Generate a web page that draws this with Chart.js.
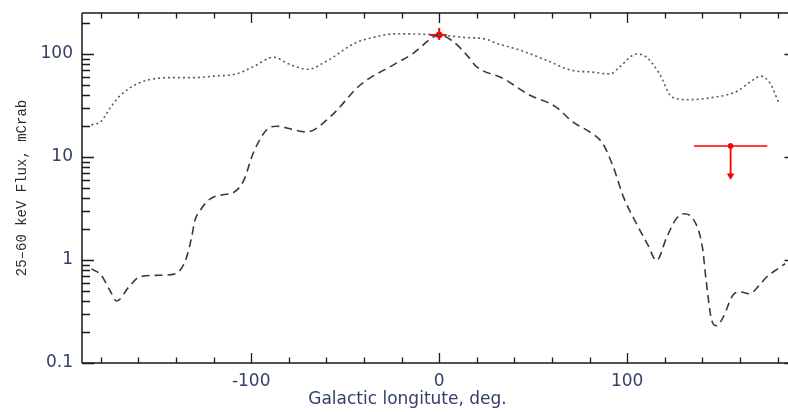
<!DOCTYPE html>
<html>
<head>
<meta charset="utf-8">
<script src="https://cdn.jsdelivr.net/npm/chart.js@4.4.1/dist/chart.umd.min.js"></script>
<style>
html,body{margin:0;padding:0;background:#fff;overflow:hidden;width:788px;height:412px;}
canvas{display:block;}
</style>
</head>
<body>
<canvas id="c" width="788" height="412"></canvas>
<script>
// ---- data ----
const dottedLon  = [-185,-180,-175,-170,-160,-150,-140,-130,-120,-108,-99,-88,-80,-70,-60,-45,-35,-23,-10,0,13,25,30.5,43,57,71,80,91,96,105,110,117,124,132,146,158,167,171,176,180.5];
const dottedFlux = [20.5,22,30,39,52,58,59,59,61,64,75,93,80,71,85,127,145,157,156,153,145,139,127,109,87,69,67,64,75,100,94,65,38,36,38,43,56,61,52,34];

const dashedLon  = [-185,-180,-175,-171.6,-165,-159,-149,-140,-137.9,-134.4,-131.7,-130,-127.3,-122,-115,-109.6,-104,-99,-92,-86.5,-78,-70.5,-58,-42,-23,-14,-3,0,7.4,14.6,20,34,48,62,71,80,87,92.6,98,105,111,115.6,121,126,130,135,140,142,145,147.5,151,156,160,165,170,174,180,184];
const dashedFlux = [0.82,0.72,0.5,0.40,0.55,0.69,0.71,0.74,0.79,1.06,1.66,2.4,3.0,3.9,4.3,4.5,5.9,10.8,18.2,19.9,18.5,17.5,24.5,50,81,101,147,153,132,98,75,58,40,30.7,21.9,17.5,13.5,8,4.1,2.24,1.4,0.99,1.66,2.5,2.81,2.51,1.33,0.63,0.257,0.23,0.277,0.45,0.49,0.47,0.56,0.68,0.82,0.92];

const crossLon = 0, crossFlux = 153;
const crossLonRange = [-5, 4];
const crossFluxRange = [137, 179];

const limitLon = 155, limitFlux = 12.8;
const limitLonRange = [135.5, 174.5];
const limitArrowFlux = 6.1;

const xMajorTicks = [-100, 0, 100];
const xMinorTicks = [-180,-160,-140,-120,-80,-60,-40,-20,20,40,60,80,120,140,160,180];
const yMajorTicks = [0.1, 1, 10, 100];
const yMinorTicks = [0.2,0.3,0.4,0.5,0.6,0.7,0.8,0.9,2,3,4,5,6,7,8,9,20,30,40,50,60,70,80,90,200];
const xTitle = 'Galactic longitute, deg.          ';
const yTitle = '25\u201360 keV Flux, mCrab';

// ---- build ----
const pts = (xs, ys) => xs.map((x, i) => ({x, y: ys[i]}));
const red = '#ff0000';
const axisColor = '#1a1a1a';
const labelColor = '#34406a';

const frameTicks = {
  id: 'frameTicks',
  afterDatasetsDraw(chart) {
    const {ctx, chartArea: a, scales: {x, y}} = chart;
    ctx.save();
    ctx.strokeStyle = axisColor;
    ctx.lineWidth = 1.5;
    ctx.beginPath();
    ctx.moveTo(a.left, a.top); ctx.lineTo(a.right + 1, a.top);
    ctx.moveTo(a.left, a.top); ctx.lineTo(a.left, a.bottom);
    ctx.moveTo(a.left, a.bottom); ctx.lineTo(a.right + 1, a.bottom);
    ctx.stroke();
    ctx.lineWidth = 1.3;
    ctx.beginPath();
    const xt = (v, len) => {
      const p = Math.round(x.getPixelForValue(v)) + 0.5;
      ctx.moveTo(p, a.bottom); ctx.lineTo(p, a.bottom - len);
      ctx.moveTo(p, a.top); ctx.lineTo(p, a.top + len);
    };
    const yt = (v, len, right) => {
      const p = Math.round(y.getPixelForValue(v)) + 0.5;
      ctx.moveTo(a.left, p); ctx.lineTo(a.left + len, p);
      if (right) { ctx.moveTo(a.right + 1, p); ctx.lineTo(a.right - 2.5, p); }
    };
    xMajorTicks.forEach(v => xt(v, 10));
    xMinorTicks.forEach(v => xt(v, 5.5));
    yMajorTicks.forEach(v => yt(v, 12, true));
    yMinorTicks.forEach(v => yt(v, 8, false));
    ctx.stroke();
    ctx.restore();
  }
};

new Chart(document.getElementById('c'), {
  type: 'line',
  data: {
    datasets: [
      { data: pts(dottedLon, dottedFlux), borderColor: '#5a5a5a', borderWidth: 1.6, borderDash: [2, 3],
        pointRadius: 0, cubicInterpolationMode: 'monotone', fill: false },
      { data: pts(dashedLon, dashedFlux), borderColor: '#3a3a3a', borderWidth: 1.6, borderDash: [8, 5],
        pointRadius: 0, cubicInterpolationMode: 'monotone', fill: false },
      // red detection with error bars
      { data: [{x: crossLonRange[0], y: crossFlux}, {x: crossLonRange[1], y: crossFlux}], borderColor: red, borderWidth: 2, pointRadius: 0 },
      { data: [{x: crossLon, y: crossFluxRange[0]}, {x: crossLon, y: crossFluxRange[1]}], borderColor: red, borderWidth: 2, pointRadius: 0 },
      { data: [{x: crossLon, y: crossFlux}], showLine: false, pointRadius: 3, backgroundColor: red, borderColor: red },
      // red upper limit
      { data: [{x: limitLonRange[0], y: limitFlux}, {x: limitLonRange[1], y: limitFlux}], borderColor: red, borderWidth: 1.5, pointRadius: 0 },
      { data: [{x: limitLon, y: limitFlux}, {x: limitLon, y: limitArrowFlux * 1.12}], borderColor: red, borderWidth: 1.8, pointRadius: 0 },
      { data: [{x: limitLon, y: limitFlux}], showLine: false, pointRadius: 2.5, backgroundColor: red, borderColor: red },
      { data: [{x: limitLon, y: limitArrowFlux * 1.08}], showLine: false, pointStyle: 'triangle', rotation: 180,
        pointRadius: 3.5, backgroundColor: red, borderColor: red, borderWidth: 1 }
    ]
  },
  options: {
    responsive: false,
    animation: false,
    devicePixelRatio: 1,
    layout: { autoPadding: false, padding: { left: 12, right: 1, top: 13, bottom: 0 } },
    plugins: { legend: { display: false }, tooltip: { enabled: false } },
    scales: {
      x: {
        type: 'linear', min: -190, max: 185,
        grid: { display: false, drawTicks: false }, border: { display: false },
        afterBuildTicks: s => { s.ticks = xMajorTicks.map(v => ({value: v})); },
        afterFit: s => { s.height = 49; s.paddingLeft = 0; s.paddingRight = 0; },
        ticks: { padding: 8, color: labelColor, font: { family: 'DejaVu Sans', size: 17 }, maxRotation: 0,
                 callback: v => String(v) },
        title: { display: true, text: xTitle, color: labelColor, font: { family: 'DejaVu Sans', size: 17 },
                 padding: { top: 0, bottom: 2 } }
      },
      y: {
        type: 'logarithmic', min: 0.1, max: 250,
        grid: { display: false, drawTicks: false }, border: { display: false },
        afterBuildTicks: s => { s.ticks = yMajorTicks.map(v => ({value: v})); },
        afterFit: s => { s.width = 70; s.paddingTop = 0; s.paddingBottom = 0; },
        ticks: { padding: 9, color: labelColor, font: { family: 'DejaVu Sans', size: 17 },
                 callback: v => String(v) },
        title: { display: true, text: yTitle, color: '#2a2a2a', font: { family: 'Liberation Mono', size: 14 },
                 padding: { top: 2, bottom: 0 } }
      }
    }
  },
  plugins: [frameTicks]
});
</script>
</body>
</html>
